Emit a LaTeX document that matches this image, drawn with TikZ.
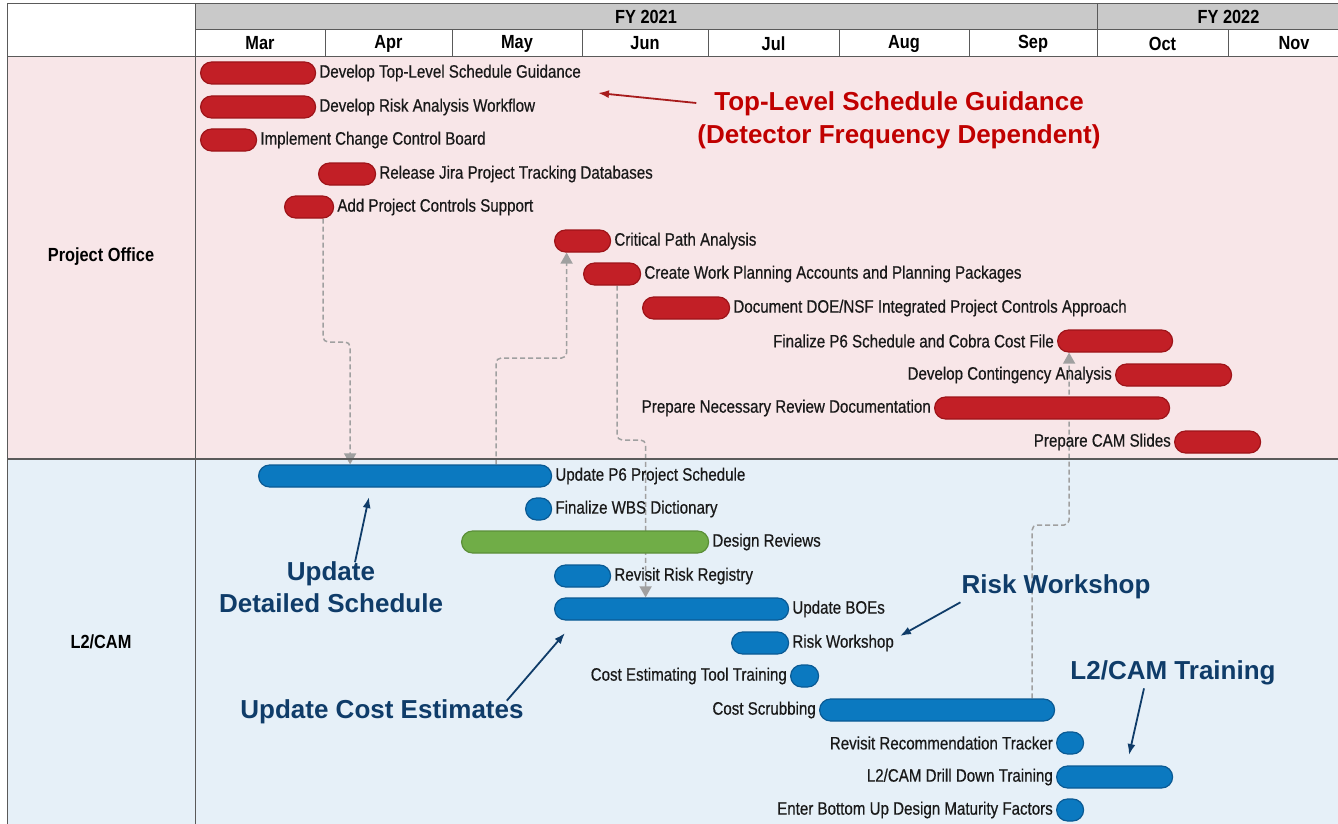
\documentclass[tikz,border=0pt]{standalone}
\usepackage{fontspec}
\setmainfont{Liberation Sans}
\newfontfamily\narrowfont{Liberation Sans}[FakeStretch=0.84,FakeBold=0.5]
\newfontfamily\headfont{Liberation Sans}[FakeStretch=0.86]
\usetikzlibrary{arrows.meta,positioning}

\definecolor{hdrgray}{RGB}{201,201,201}
\definecolor{gridgray}{RGB}{90,90,90}
\definecolor{pinkband}{RGB}{248,230,232}
\definecolor{blueband}{RGB}{230,240,248}
\definecolor{redfill}{RGB}{194,31,38}
\definecolor{redline}{RGB}{158,20,25}
\definecolor{bluefill}{RGB}{11,121,192}
\definecolor{blueline}{RGB}{10,90,148}
\definecolor{greenfill}{RGB}{112,173,71}
\definecolor{greenline}{RGB}{91,143,56}
\definecolor{linkgray}{RGB}{160,160,160}
\definecolor{calred}{RGB}{192,0,0}
\definecolor{arrred}{RGB}{168,28,28}
\definecolor{navy}{RGB}{15,60,105}

\pgfdeclarelayer{bg}
\pgfdeclarelayer{lk}
\pgfsetlayers{bg,lk,main}

\begin{document}
\begin{tikzpicture}[
    x=1pt,y=-1pt,
    font=\narrowfont\fontsize{18}{20}\selectfont,
    cell/.style={draw=gridgray,line width=1pt,inner sep=0pt,font=\headfont\bfseries\fontsize{19}{21}\selectfont},
    band/.style={font=\headfont\bfseries\fontsize{19}{21}\selectfont},
    taskbar/.style={line width=1.2pt,rounded corners=11pt,minimum height=22pt,inner sep=0pt,anchor=west},
    rbar/.style={taskbar,draw=redline,fill=redfill},
    bbar/.style={taskbar,draw=blueline,fill=bluefill},
    gbar/.style={taskbar,draw=greenline,fill=greenfill},
    lbl/.style={inner sep=1pt,text=black!90},
    link/.style={draw=linkgray,line width=1.5pt,dash pattern=on 5pt off 3pt,rounded corners=5pt,-{Triangle[length=11pt,width=12pt]}},
    callred/.style={font=\normalfont\bfseries\fontsize{26}{33}\selectfont,text=calred,align=center,inner sep=1pt},
    callblue/.style={font=\normalfont\bfseries\fontsize{26}{32}\selectfont,text=navy,align=center,inner sep=1pt},
    point/.style={-{Latex[length=11pt,width=8pt]},line width=1.8pt},
    node distance=2pt
]
\useasboundingbox (0,0) rectangle (1338,824);
\clip (0,0) rectangle (1338,824);

% swim lanes
\begin{pgfonlayer}{bg}
\fill[pinkband] (7,57) rectangle (1338,459);
\fill[blueband] (7,459) rectangle (1338,824);
\end{pgfonlayer}
\draw[gridgray,line width=1pt] (7,4) rectangle (195,57);
\draw[gridgray,line width=1pt] (7,57) -- (7,824) (195,57) -- (195,824);
\draw[gridgray,line width=2pt] (7,459) -- (1338,459);
\node[band] (po) at (101,257) {Project Office};
\node[band] (l2cam) at (101,642) {L2/CAM};

% header
\node[cell,fill=hdrgray,minimum width=902pt,minimum height=26pt] (fy21) at (646,17) {FY 2021};
\node[cell,fill=hdrgray,minimum width=263pt,minimum height=26pt] (fy22) at (1228.5,17) {FY 2022};
\foreach \m/\a/\b [count=\i] in {Mar/195/325,Apr/325/452,May/452/582,Jun/582/708,Jul/708/839,Aug/839/969,Sep/969/1097,Oct/1097/1228,Nov/1228/1360}
  \node[cell,fill=white,minimum width={(\b-\a)*1pt},minimum height=27pt] (m\i) at ({(\a+\b)/2},43.5) {\m};

% Project Office tasks
\node[rbar,minimum width=115pt] (toplevel) at (200,73) {};
\node[lbl,right=of toplevel] (toplevel-t) {Develop Top-Level Schedule Guidance};
\node[rbar,minimum width=115pt] (riskflow) at (200,107) {};
\node[lbl,right=of riskflow] (riskflow-t) {Develop Risk Analysis Workflow};
\node[rbar,minimum width=56pt] (ccb) at (200,140) {};
\node[lbl,right=of ccb] (ccb-t) {Implement Change Control Board};
\node[rbar,minimum width=57pt] (jira) at (318,174) {};
\node[lbl,right=of jira] (jira-t) {Release Jira Project Tracking Databases};
\node[rbar,minimum width=49pt] (pcsupport) at (284,207) {};
\node[lbl,right=of pcsupport] (pcsupport-t) {Add Project Controls Support};
\node[rbar,minimum width=56pt] (critpath) at (554,241) {};
\node[lbl,right=of critpath] (critpath-t) {Critical Path Analysis};
\node[rbar,minimum width=57pt] (wpacct) at (583,274) {};
\node[lbl,right=of wpacct] (wpacct-t) {Create Work Planning Accounts and Planning Packages};
\node[rbar,minimum width=87pt] (doensf) at (642,308) {};
\node[lbl,right=of doensf] (doensf-t) {Document DOE/NSF Integrated Project Controls Approach};
\node[rbar,minimum width=115pt] (finp6) at (1057,341) {};
\node[lbl,left=of finp6] (finp6-t) {Finalize P6 Schedule and Cobra Cost File};
\node[rbar,minimum width=116pt] (conting) at (1115,375) {};
\node[lbl,left=of conting] (conting-t) {Develop Contingency Analysis};
\node[rbar,minimum width=235pt] (review) at (934,408) {};
\node[lbl,left=of review] (review-t) {Prepare Necessary Review Documentation};
\node[rbar,minimum width=86pt] (camslides) at (1174,442) {};
\node[lbl,left=of camslides] (camslides-t) {Prepare CAM Slides};

% L2/CAM tasks
\node[bbar,minimum width=293pt] (updsched) at (258,476) {};
\node[lbl,right=of updsched] (updsched-t) {Update P6 Project Schedule};
\node[bbar,minimum width=26pt] (wbsdict) at (525,509) {};
\node[lbl,right=of wbsdict] (wbsdict-t) {Finalize WBS Dictionary};
\node[gbar,minimum width=247pt] (design) at (461,542) {};
\node[lbl,right=of design] (design-t) {Design Reviews};
\node[bbar,minimum width=56pt] (riskreg) at (554,576) {};
\node[lbl,right=of riskreg] (riskreg-t) {Revisit Risk Registry};
\node[bbar,minimum width=234pt] (boes) at (554,609) {};
\node[lbl,right=of boes] (boes-t) {Update BOEs};
\node[bbar,minimum width=57pt] (riskws) at (731,643) {};
\node[lbl,right=of riskws] (riskws-t) {Risk Workshop};
\node[bbar,minimum width=28pt] (cetool) at (790,676) {};
\node[lbl,left=of cetool] (cetool-t) {Cost Estimating Tool Training};
\node[bbar,minimum width=235pt] (scrub) at (819,710) {};
\node[lbl,left=of scrub] (scrub-t) {Cost Scrubbing};
\node[bbar,minimum width=27pt] (rectrack) at (1056,743) {};
\node[lbl,left=of rectrack] (rectrack-t) {Revisit Recommendation Tracker};
\node[bbar,minimum width=116pt] (drill) at (1056,777) {};
\node[lbl,left=of drill] (drill-t) {L2/CAM Drill Down Training};
\node[bbar,minimum width=27pt] (maturity) at (1056,810) {};
\node[lbl,left=of maturity] (maturity-t) {Enter Bottom Up Design Maturity Factors};

% dependencies
\begin{pgfonlayer}{lk}
\draw[link] ([xshift=14pt]pcsupport.south) |- (335,342) -| ([xshift=-55pt]updsched.north);
\draw[link] ([xshift=91pt]updsched.north) |- (530,358) -| ([xshift=-16pt]critpath.south);
\draw[link] ([xshift=5pt]wpacct.south) |- (630,440) -| ([xshift=-26pt]boes.north);
\draw[link] ([xshift=95pt]scrub.north) |- (1050,525) -| ([xshift=-46pt]finp6.south);
\end{pgfonlayer}

% callouts
\node[callred] (tlsg) at (899,120) {Top-Level Schedule Guidance\\(Detector Frequency Dependent)};
\node[callblue] (upds) at (331,587) {Update\\Detailed Schedule};
\node[callblue] (ucost) at (382,712) {Update Cost Estimates};
\node[callblue] (rws) at (1056,587) {Risk Workshop};
\node[callblue] (l2t) at (1173,673) {L2/CAM Training};
\coordinate (tlsg-tip) at (598,93);
\coordinate (upds-tip) at (369,497);
\coordinate (ucost-tip) at (565,633);
\coordinate (rws-tip) at (900,636);
\coordinate (l2t-tip) at (1129,755);
\draw[point,arrred] ([yshift=17pt]tlsg.west) -- (tlsg-tip);
\draw[point,navy] ([xshift=24pt,yshift=-2pt]upds.north) -- (upds-tip);
\draw[point,navy] ([xshift=-18pt,yshift=-2pt]ucost.north east) -- (ucost-tip);
\draw[point,navy] ([yshift=-2pt]rws.south west) -- (rws-tip);
\draw[point,navy] ([xshift=-29pt,yshift=-2pt]l2t.south) -- (l2t-tip);
\end{tikzpicture}
\end{document}
